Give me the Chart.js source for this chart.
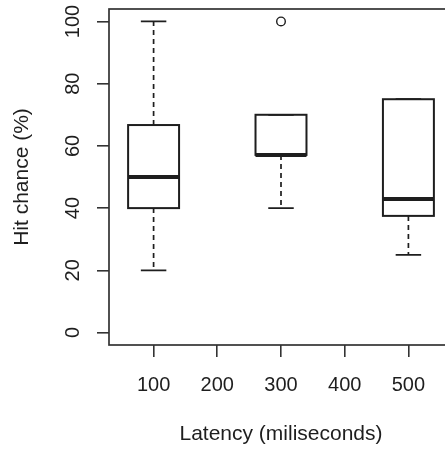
<!DOCTYPE html>
<html>
<head>
<meta charset="utf-8">
<script src="https://cdn.jsdelivr.net/npm/chart.js@4"></script>
<style>
  html, body { margin: 0; padding: 0; overflow: hidden; background: #fff; }
  canvas { display: block; }
</style>
</head>
<body>
<canvas id="latencyChart" width="460" height="449"></canvas>
<script>
// box plot values
const groupX = [100, 300, 500];
const lowerWhisker = [20, 40, 25];
const q1 = [40, 57.1, 37.5];
const median = [50, 57.1, 42.9];
const q3 = [66.7, 70, 75];
const upperWhisker = [100, 70, 75];
const outlierX = [300];
const outlierY = [100];

const xTicks = [100, 200, 300, 400, 500];
const xTickLabels = ['100', '200', '300', '400', '500'];
const yTicks = [0, 20, 40, 60, 80, 100];

const ink = '#1e1e1e';
const fontFamily = '"Liberation Sans", Arial, Helvetica, sans-serif';
const boxHalf = 40;   // x units
const capHalf = 20;

const boxPlugin = {
  id: 'boxes',
  beforeDatasetsDraw(chart) {
    const { ctx, scales: { x, y } } = chart;
    ctx.save();
    ctx.strokeStyle = ink;
    groupX.forEach(function(g, i) {
      const cx = x.getPixelForValue(g);
      const l = x.getPixelForValue(g - boxHalf);
      const r = x.getPixelForValue(g + boxHalf);
      const cl = x.getPixelForValue(g - capHalf);
      const cr = x.getPixelForValue(g + capHalf);
      const yq1 = y.getPixelForValue(q1[i]);
      const yq3 = y.getPixelForValue(q3[i]);

      // dashed whiskers
      ctx.lineWidth = 1.7;
      ctx.setLineDash([5, 4]);
      ctx.beginPath();
      if (upperWhisker[i] > q3[i]) {
        ctx.moveTo(cx, yq3);
        ctx.lineTo(cx, y.getPixelForValue(upperWhisker[i]));
      }
      if (lowerWhisker[i] < q1[i]) {
        ctx.moveTo(cx, yq1);
        ctx.lineTo(cx, y.getPixelForValue(lowerWhisker[i]));
      }
      ctx.stroke();

      // caps
      ctx.setLineDash([]);
      ctx.beginPath();
      [upperWhisker[i], lowerWhisker[i]].forEach(function(v) {
        const yy = y.getPixelForValue(v);
        ctx.moveTo(cl, yy);
        ctx.lineTo(cr, yy);
      });
      ctx.stroke();

      // box
      ctx.lineWidth = 2;
      ctx.strokeRect(l, yq3, r - l, yq1 - yq3);

      // median
      ctx.lineWidth = 4;
      ctx.beginPath();
      const ym = y.getPixelForValue(median[i]);
      ctx.moveTo(l, ym);
      ctx.lineTo(r, ym);
      ctx.stroke();
    });
    ctx.restore();
  },
  afterDraw(chart) {
    const { ctx, chartArea: a } = chart;
    ctx.save();
    ctx.strokeStyle = '#333';
    ctx.lineWidth = 1.7;
    ctx.strokeRect(a.left, a.top, a.right - a.left, a.bottom - a.top);
    ctx.restore();
  }
};

function noEdgePadding(scale) {
  scale.paddingTop = 0;
  scale.paddingBottom = 0;
  scale.paddingLeft = 0;
  scale.paddingRight = 0;
}

const ctx = document.getElementById('latencyChart').getContext('2d');

new Chart(ctx, {
  type: 'scatter',
  data: {
    datasets: [{
      label: 'Outliers',
      data: outlierX.map(function(v, i) { return { x: v, y: outlierY[i] }; }),
      pointRadius: 4.3,
      pointBackgroundColor: '#fff',
      pointBorderColor: ink,
      pointBorderWidth: 1.4
    }]
  },
  options: {
    responsive: false,
    animation: false,
    layout: { padding: { top: 9, right: 7, left: 0, bottom: 0 } },
    plugins: {
      legend: { display: false },
      tooltip: { enabled: false }
    },
    scales: {
      x: {
        type: 'linear',
        min: 30,
        max: 570,
        afterBuildTicks: function(scale) {
          scale.ticks = xTicks.map(function(v) { return { value: v }; });
        },
        afterFit: function(scale) {
          scale.height = 104;
          noEdgePadding(scale);
        },
        ticks: {
          color: ink,
          padding: 16,
          font: { family: fontFamily, size: 20 },
          maxRotation: 0,
          callback: function(value) {
            return xTickLabels[xTicks.indexOf(value)];
          }
        },
        grid: {
          drawOnChartArea: false,
          tickLength: 12,
          color: '#333',
          lineWidth: 1.6
        },
        border: { display: false },
        title: {
          display: true,
          text: 'Latency (miliseconds)',
          color: ink,
          font: { family: fontFamily, size: 21 },
          padding: { top: 0, bottom: 2 }
        }
      },
      y: {
        type: 'linear',
        min: -4,
        max: 104,
        afterBuildTicks: function(scale) {
          scale.ticks = yTicks.map(function(v) { return { value: v }; });
        },
        afterFit: function(scale) {
          scale.width = 109;
          noEdgePadding(scale);
        },
        ticks: {
          color: ink,
          padding: 7,
          minRotation: 90,
          maxRotation: 90,
          crossAlign: 'center',
          font: { family: fontFamily, size: 20 }
        },
        grid: {
          drawOnChartArea: false,
          tickLength: 12,
          color: '#333',
          lineWidth: 1.6
        },
        border: { display: false },
        title: {
          display: true,
          text: 'Hit chance (%)',
          color: ink,
          font: { family: fontFamily, size: 21 },
          padding: { top: 10, bottom: 0 }
        }
      }
    }
  },
  plugins: [boxPlugin]
});
</script>
</body>
</html>
